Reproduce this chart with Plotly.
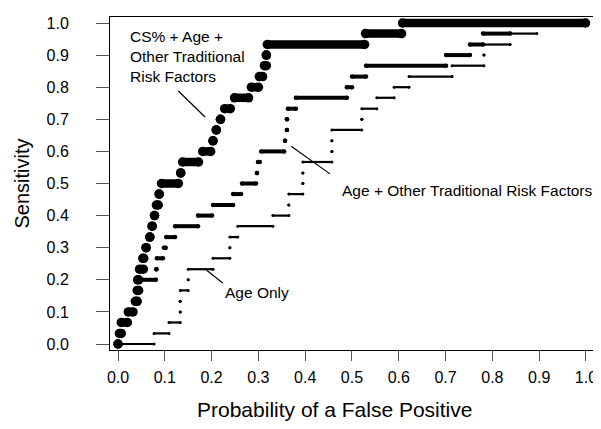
import plotly.graph_objects as go

# ---- data -------------------------------------------------------------
sens_levels = [0.0, 0.033, 0.067, 0.1, 0.133, 0.167, 0.2, 0.233, 0.267, 0.3,
               0.333, 0.367, 0.4, 0.433, 0.467, 0.5, 0.533, 0.567, 0.6, 0.633,
               0.667, 0.7, 0.733, 0.767, 0.8, 0.833, 0.867, 0.9, 0.933, 0.967, 1.0]

# CS% + Age + Other Traditional Risk Factors (false-positive range at each sensitivity)
cs_fp_start = [0.0, 0.003, 0.007, 0.022, 0.037, 0.041, 0.042, 0.046, 0.053, 0.060,
               0.068, 0.073, 0.078, 0.082, 0.088, 0.093, 0.134, 0.138, 0.181, 0.203,
               0.210, 0.219, 0.228, 0.249, 0.285, 0.302, 0.313, 0.317, 0.319, 0.529, 0.608]
cs_fp_end = [0.0, 0.007, 0.020, 0.032, 0.041, 0.044, 0.044, 0.054, 0.055, 0.060,
             0.068, 0.073, 0.078, 0.086, 0.088, 0.129, 0.134, 0.172, 0.198, 0.203,
             0.210, 0.219, 0.240, 0.279, 0.300, 0.309, 0.317, 0.317, 0.527, 0.606, 0.999]

# Age + Other Traditional Risk Factors
ao_fp_start = [0.0, 0.004, 0.010, 0.025, 0.038, 0.042, 0.045, 0.082, 0.083, 0.098,
               0.103, 0.122, 0.171, 0.203, 0.246, 0.265, 0.297, 0.299, 0.306, 0.357,
               0.361, 0.361, 0.363, 0.380, 0.489, 0.500, 0.530, 0.701, 0.752, 0.780, 0.838]
ao_fp_end = [0.0, 0.006, 0.018, 0.030, 0.040, 0.044, 0.081, 0.082, 0.096, 0.102,
             0.122, 0.171, 0.201, 0.246, 0.263, 0.295, 0.297, 0.303, 0.355, 0.357,
             0.361, 0.361, 0.380, 0.489, 0.500, 0.530, 0.701, 0.752, 0.780, 0.838, 1.0]

# Age Only
age_fp_start = [0.0, 0.077, 0.109, 0.133, 0.133, 0.133, 0.150, 0.150, 0.203, 0.239,
                0.239, 0.256, 0.331, 0.365, 0.365, 0.395, 0.395, 0.395, 0.457, 0.457,
                0.457, 0.521, 0.521, 0.553, 0.590, 0.622, 0.714, 0.782, 0.782, 0.838, 0.895]
age_fp_end = [0.077, 0.109, 0.133, 0.133, 0.133, 0.150, 0.150, 0.203, 0.239, 0.239,
              0.256, 0.331, 0.365, 0.365, 0.395, 0.395, 0.395, 0.457, 0.457, 0.457,
              0.521, 0.521, 0.553, 0.590, 0.622, 0.714, 0.782, 0.782, 0.838, 0.895, 1.0]

x_tick_vals = [0.0, 0.1, 0.2, 0.3, 0.4, 0.5, 0.6, 0.7, 0.8, 0.9, 1.0]
x_tick_text = ["0.0", "0.1", "0.2", "0.3", "0.4", "0.5", "0.6", "0.7", "0.8", "0.9", "1.0"]
y_tick_vals = [0.0, 0.1, 0.2, 0.3, 0.4, 0.5, 0.6, 0.7, 0.8, 0.9, 1.0]
y_tick_text = ["0.0", "0.1", "0.2", "0.3", "0.4", "0.5", "0.6", "0.7", "0.8", "0.9", "1.0"]

label_cs = "CS% + Age +<br>Other Traditional<br>Risk Factors"
label_ao = "Age + Other Traditional Risk Factors"
label_age = "Age Only"
x_title = "Probability of a False Positive"
y_title = "Sensitivity"


def step_xy(starts, ends, levels):
    xs, ys = [], []
    for s, e, lv in zip(starts, ends, levels):
        xs += [s, e, None]
        ys += [lv, lv, None]
    return xs, ys


FONT = "Liberation Sans, Arial, Helvetica, sans-serif"
fig = go.Figure()

for starts, ends, lw, ms in [
    (age_fp_start, age_fp_end, 2.2, 3),
    (ao_fp_start, ao_fp_end, 4, 4.5),
    (cs_fp_start, cs_fp_end, 8.5, 9.5),
]:
    xs, ys = step_xy(starts, ends, sens_levels)
    fig.add_trace(go.Scatter(
        x=xs, y=ys, mode="lines+markers",
        line=dict(color="black", width=lw),
        marker=dict(color="black", size=ms, line=dict(width=0)),
        connectgaps=False, showlegend=False, hoverinfo="skip",
    ))

# leader lines for the labels
leaders = [
    (0.129, 0.788, 0.186, 0.707),
    (0.370, 0.616, 0.453, 0.530),
    (0.1895, 0.2296, 0.2237, 0.190),
]
for x0, y0, x1, y1 in leaders:
    fig.add_shape(type="line", xref="x", yref="y", x0=x0, y0=y0, x1=x1, y1=y1,
                  line=dict(color="black", width=1.2))

fig.add_annotation(x=0.021, y=0.897, xref="x", yref="y", text=label_cs, showarrow=False,
                   xanchor="left", yanchor="middle", align="left",
                   font=dict(family=FONT, size=15.5, color="black"))
fig.add_annotation(x=0.474, y=0.477, xref="x", yref="y", text=label_ao, showarrow=False,
                   xanchor="left", yanchor="middle", align="left",
                   font=dict(family=FONT, size=15.5, color="black"))
fig.add_annotation(x=0.224, y=0.162, xref="x", yref="y", text=label_age, showarrow=False,
                   xanchor="left", yanchor="middle", align="left",
                   font=dict(family=FONT, size=15.5, color="black"))

# x-axis title (sits slightly left of the plot centre in the original)
fig.add_annotation(x=0.461, y=-0.18, xref="paper", yref="paper", text=x_title,
                   showarrow=False, xanchor="center", yanchor="middle",
                   font=dict(family=FONT, size=21, color="black"))

# the page body adds an 8px offset, so the figure is sized to the remaining window
fig.update_layout(
    template="none",
    width=593, height=421,
    margin=dict(l=102, r=5, t=9, b=79, autoexpand=False),
    paper_bgcolor="white", plot_bgcolor="white",
    font=dict(family=FONT, color="black"),
    xaxis=dict(
        automargin=False,
        range=[-0.0171, 1.0214], tickvals=x_tick_vals, ticktext=x_tick_text,
        showgrid=False, zeroline=False, showline=True, mirror=True,
        linecolor="black", linewidth=1, ticks="outside", ticklen=10,
        tickcolor="#555", tickwidth=1, ticklabelstandoff=3,
        tickfont=dict(family=FONT, size=16, color="black"),
    ),
    yaxis=dict(
        automargin=False,
        range=[-0.0187, 1.0187], tickvals=y_tick_vals, ticktext=y_tick_text,
        showgrid=False, zeroline=False, showline=True, mirror=True,
        linecolor="black", linewidth=1, ticks="outside", ticklen=13,
        tickcolor="#555", tickwidth=1, ticklabelstandoff=24,
        tickfont=dict(family=FONT, size=16, color="black"),
        title=dict(text=y_title, font=dict(family=FONT, size=20, color="black"), standoff=11),
    ),
)

fig.write_html("out.html")
